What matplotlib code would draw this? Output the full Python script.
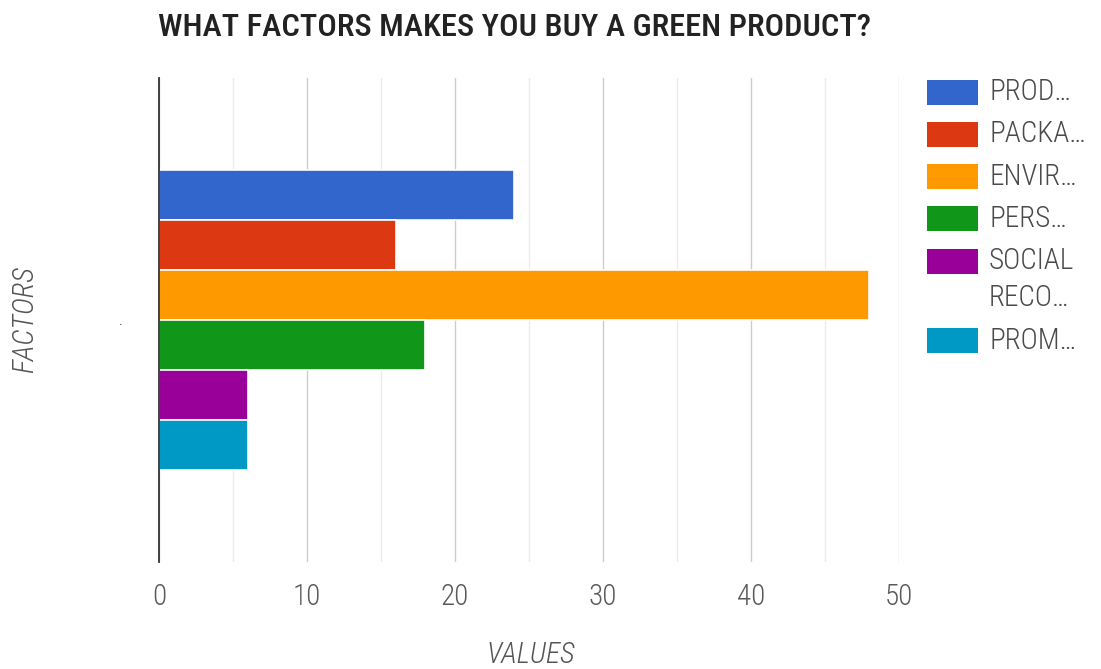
import matplotlib
matplotlib.use("Agg")
import matplotlib.pyplot as plt
from matplotlib.patches import Rectangle
import numpy as np

FAM = ['Roboto Condensed', 'Roboto', 'DejaVu Sans']
plt.rcParams['font.family'] = FAM

title = "WHAT FACTORS MAKES YOU BUY A GREEN PRODUCT?"
series_labels = ["PROD…", "PACKA…", "ENVIR…", "PERS…", "SOCIAL\nRECO…", "PROM…"]
series_values = [24, 16, 48, 18, 6, 6]
series_colors = ["#3366CC", "#DC3912", "#FF9900", "#109618", "#990099", "#0099C6"]
category_label = "."
x_ticks = [0, 10, 20, 30, 40, 50]
x_label = "VALUES"
y_label = "FACTORS"

W, H = 1101, 669
fig = plt.figure(figsize=(W / 100, H / 100), dpi=100)
L, R, T, B = 159, 899, 78, 562
ax = fig.add_axes([L / W, 1 - B / H, (R - L) / W, (B - T) / H])

n = len(series_values)
offsets = (n - 1) / 2 - np.arange(n)
for off, v, c in zip(offsets, series_values, series_colors):
    ax.barh(off, v, height=1.0, color=c, edgecolor="white", linewidth=1.2, zorder=3)

ax.set_xlim(0, 50)
ax.set_ylim(-4.84, 4.84)
ax.set_xticks(x_ticks)
ax.set_xticks(np.arange(5, 50, 10), minor=True)
ax.grid(axis="x", which="major", color="#cccccc", linewidth=1.0, zorder=0)
ax.grid(axis="x", which="minor", color="#ebebeb", linewidth=1.0, zorder=0)
ax.set_yticks([0])
ax.set_yticklabels([category_label], fontsize=10, color="#444444")
ax.tick_params(axis="y", length=0, pad=26)
ax.tick_params(axis="x", which="both", length=0, pad=15, labelsize=21, labelcolor="#5a5a5a")
for lab in ax.get_xticklabels():
    lab.set_fontweight("light")
for s in ["top", "right", "bottom"]:
    ax.spines[s].set_visible(False)
ax.spines["left"].set_color("#333333")
ax.spines["left"].set_linewidth(1.3)
ax.spines["left"].set_zorder(4)

t = fig.text(L / W - 0.001, 1 - 28 / H, title, fontsize=18, fontweight="medium", color="#222222",
             ha="left", va="center")
fig.canvas.draw()
w = t.get_window_extent().width
t.set_fontsize(18 * 712 / w)

fig.text((L + R) / 2 / W + 2 / W, 1 - 655 / H, x_label, fontsize=21, style="italic", color="#555555",
         ha="center", va="center", fontweight="light")
fig.text(25 / W, 1 - 320 / H, y_label, fontsize=21, style="italic", color="#555555",
         ha="center", va="center", rotation=90, fontweight="light")

# legend
y = 92
for lab, c in zip(series_labels, series_colors):
    fig.patches.append(Rectangle((927 / W, 1 - (y + 12.5) / H), 51 / W, 25 / H,
                                 transform=fig.transFigure, facecolor=c, edgecolor="none"))
    lines = lab.split("\n")
    for k, line in enumerate(lines):
        fig.text(989 / W, 1 - (y + k * 37) / H, line, fontsize=21, color="#4a4a4a",
                 ha="left", va="center", fontweight="light")
    y += 42.3 + 37 * (len(lines) - 1)

fig.savefig("out.png", dpi=100, facecolor="white")
